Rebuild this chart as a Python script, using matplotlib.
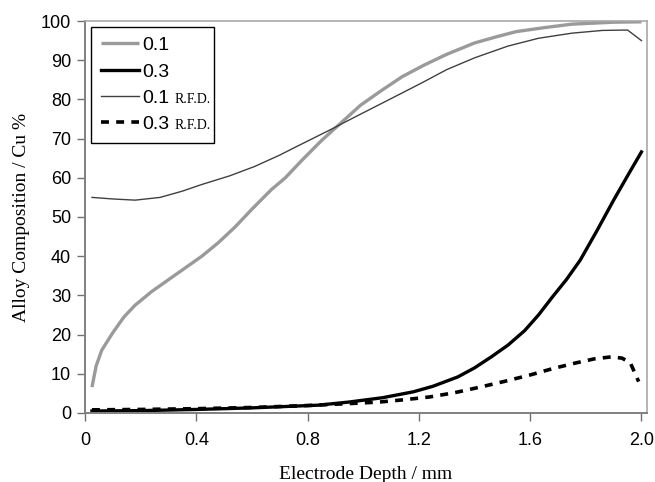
import matplotlib
matplotlib.use('Agg')
import matplotlib.pyplot as plt
from matplotlib.patches import Rectangle

# Dados
x_01 = [0.025, 0.04, 0.06, 0.10, 0.14, 0.18, 0.24, 0.30, 0.36, 0.42, 0.48, 0.54, 0.60, 0.67,
        0.72, 0.78, 0.85, 0.92, 0.99, 1.06, 1.14, 1.22, 1.30, 1.40, 1.48, 1.55, 1.65, 1.75, 1.90, 2.0]
y_01 = [6.6, 12, 16, 20.5, 24.5, 27.5, 31, 34, 37, 40, 43.5, 47.5, 52, 57,
        60, 64.5, 69.5, 74, 78.5, 82, 85.8, 88.8, 91.5, 94.4, 96, 97.3, 98.3, 99.2, 99.7, 99.8]

x_03 = [0.025, 0.2, 0.4, 0.6, 0.84, 0.95, 1.07, 1.18, 1.25, 1.34, 1.40, 1.46, 1.52, 1.58,
        1.63, 1.68, 1.73, 1.78, 1.84, 1.90, 1.95, 2.0]
y_03 = [0.5, 0.6, 0.9, 1.3, 2.0, 2.8, 3.9, 5.4, 6.8, 9.2, 11.5, 14.3, 17.3, 21,
        25, 29.6, 34, 39, 46.5, 54.3, 60.5, 66.6]

x_01_rfd = [0.025, 0.10, 0.18, 0.27, 0.35, 0.42, 0.52, 0.61, 0.70, 0.75, 0.88, 0.97, 1.10,
            1.21, 1.30, 1.40, 1.52, 1.63, 1.75, 1.86, 1.95, 2.0]
y_01_rfd = [55, 54.6, 54.3, 55, 56.6, 58.3, 60.5, 62.9, 65.8, 67.6, 72.2, 75.5, 80.2,
            84.2, 87.6, 90.6, 93.6, 95.6, 96.9, 97.6, 97.7, 95]

x_03_rfd = [0.025, 0.2, 0.4, 0.6, 0.8, 0.95, 1.06, 1.15, 1.24, 1.33, 1.42, 1.51, 1.60, 1.68,
            1.76, 1.83, 1.89, 1.93, 1.96, 1.99]
y_03_rfd = [0.8, 0.9, 1.1, 1.4, 1.9, 2.4, 2.8, 3.4, 4.1, 5.2, 6.6, 8.1, 9.7, 11.3,
            12.7, 13.8, 14.3, 14.0, 12.8, 8.0]

xticks = [0, 0.4, 0.8, 1.2, 1.6, 2.0]
xtick_labels = ['0', '0.4', '0.8', '1.2', '1.6', '2.0']
yticks = list(range(0, 101, 10))

sans = 'Liberation Sans'
serif = 'Liberation Serif'

fig = plt.figure(figsize=(6.55, 4.82), dpi=100)
ax = fig.add_axes([0.1298, 0.1432, 0.858, 0.8132])

ax.plot(x_01, y_01, color='#9a9a9a', lw=2.4, label='0.1', solid_capstyle='butt')
ax.plot(x_03, y_03, color='black', lw=2.4, label='0.3')
ax.plot(x_01_rfd, y_01_rfd, color='#404040', lw=1.0, label='0.1')
ax.plot(x_03_rfd, y_03_rfd, color='black', lw=2.6, ls=(0, (2.2, 2.0)), label='0.3')

ax.set_xlim(0, 2.02)
ax.set_ylim(0, 100)
ax.set_xticks(xticks)
ax.set_xticklabels(xtick_labels)
ax.set_yticks(yticks)
for lab in ax.get_xticklabels() + ax.get_yticklabels():
    lab.set_fontfamily(sans)
    lab.set_fontsize(13)
ax.tick_params(direction='out', length=6, width=1, color='#707070', pad=4)
ax.tick_params(axis='x', pad=8)

for side in ['left', 'bottom']:
    ax.spines[side].set_color('#808080')
    ax.spines[side].set_linewidth(1.4)
for side in ['top', 'right']:
    ax.spines[side].set_color('#a8a8a8')
    ax.spines[side].set_linewidth(1.2)

ax.set_xlabel('Electrode Depth / mm', fontfamily=serif, fontsize=14, labelpad=12)
ax.set_ylabel('Alloy Composition / Cu %', fontfamily=serif, fontsize=14, labelpad=8)

leg = ax.legend(loc='upper left', frameon=False, prop={'family': sans, 'size': 14},
                handlelength=2.0, handletextpad=0.12, labelspacing=0.45,
                borderpad=0.5, borderaxespad=0.3)

fig.canvas.draw()
r = fig.canvas.get_renderer()
rfd = []
for t in leg.get_texts()[2:]:
    rfd.append(ax.annotate('R.F.D.', xy=(1, 0), xycoords=t, xytext=(4, 1),
                           textcoords='offset points', fontfamily=serif, fontsize=10,
                           ha='left', va='bottom'))
fig.canvas.draw()
lb = leg.get_window_extent(r)
x1 = max(a.get_window_extent(r).x1 for a in rfd) + 3
fw, fh = fig.bbox.width, fig.bbox.height
fig.add_artist(Rectangle((lb.x0 / fw, lb.y0 / fh), (x1 - lb.x0) / fw, lb.height / fh,
                         transform=fig.transFigure, fill=False, ec='black', lw=1.0))

plt.savefig('out.png', dpi=100)
